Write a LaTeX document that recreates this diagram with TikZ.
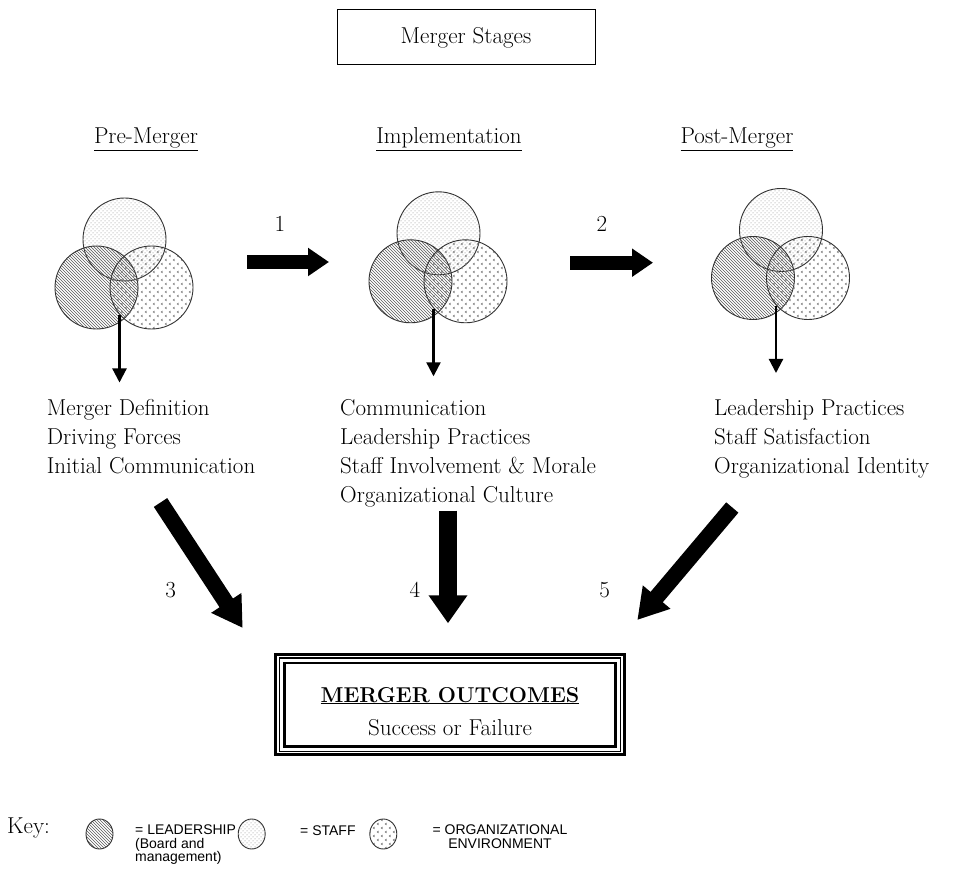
\documentclass[tikz,border=0pt]{standalone}
\usepackage{fontspec}
\newfontfamily\keyfont{Liberation Sans}
\usepackage{tikz}
\usetikzlibrary{calc}
\usetikzlibrary{arrows.meta}
\usetikzlibrary{patterns}
\usetikzlibrary{shapes.geometric}

\pgfdeclarepatternformonly{staffdots}{\pgfqpoint{-1pt}{-1pt}}{\pgfqpoint{5pt}{5pt}}{\pgfqpoint{4pt}{4pt}}{%
  \pgfpathcircle{\pgfqpoint{1pt}{1pt}}{0.5pt}%
  \pgfpathcircle{\pgfqpoint{3pt}{3pt}}{0.5pt}%
  \pgfusepath{fill}}
\pgfdeclarepatternformonly{envmarks}{\pgfqpoint{-1pt}{-1pt}}{\pgfqpoint{9pt}{9pt}}{\pgfqpoint{8pt}{8pt}}{%
  \pgfsetlinewidth{0.6pt}%
  \pgfpathmoveto{\pgfqpoint{2.6pt}{3pt}}\pgfpathlineto{\pgfqpoint{1.2pt}{2pt}}\pgfpathlineto{\pgfqpoint{2.6pt}{1pt}}%
  \pgfpathmoveto{\pgfqpoint{6.6pt}{7pt}}\pgfpathlineto{\pgfqpoint{5.2pt}{6pt}}\pgfpathlineto{\pgfqpoint{6.6pt}{5pt}}%
  \pgfusepath{stroke}}

\tikzset{
  ring/.style={circle, draw=black!80, line width=0.9pt, minimum size=83pt},
  lead/.style={ring, pattern=north west lines, pattern color=black!65},
  staff/.style={ring, pattern=staffdots, pattern color=black!50},
  env/.style={ring, pattern=envmarks, pattern color=black!55},
  keyring/.style={ellipse, minimum width=27pt, minimum height=30pt},
  keytext/.style={font=\keyfont\fontsize{14}{13.5}\selectfont},
  thinarrow/.style={line width=2.2pt, -{Triangle[width=14pt, length=14pt]}},
  sidearrow/.style={line width=14pt, -{Triangle[width=27pt, length=21pt]}},
  bigarrow/.style={line width=16pt, -{Triangle[width=34pt, length=30pt]}},
}

\begin{document}
\begin{tikzpicture}[x=1pt, y=-1pt,
  every node/.style={font=\fontsize{23}{29}\selectfont, inner sep=0pt}]
  \useasboundingbox (0,0) rectangle (954,882);

  \node[draw, line width=1pt, minimum width=258pt, minimum height=55pt] (title) at (466,37.5) {Merger Stages};

  \node[anchor=base] (pre-head) at (146,144) {\underline{Pre-Merger}};
  \node[anchor=base] (impl-head) at (449,144) {\underline{Implementation}};
  \node[anchor=base] (post-head) at (737,144) {\underline{Post-Merger}};

  % three venn groups
  \foreach \nm/\x/\y in {pre/96.5/287.5, impl/410.5/281.3, post/753/278}{
    \node[staff] (\nm-staff) at (\x+28,\y-48) {};
    \node[lead] (\nm-lead) at (\x,\y) {};
    \node[env] (\nm-env) at (\x+55,\y) {};
    \coordinate (\nm-from) at (\x+23,\y+28);
    \coordinate (\nm-to) at (\x+23,\y+95);
    \draw[thinarrow] (\nm-from) -- (\nm-to);
  }

  \node[anchor=north west, align=left] (pre-list) at (46.7,399)
    {Merger Definition\\Driving Forces\\Initial Communication};
  \node[anchor=north west, align=left] (impl-list) at (340,399)
    {Communication\\Leadership Practices\\Staff Involvement \& Morale\\Organizational Culture};
  \node[anchor=north west, align=left] (post-list) at (714,399)
    {Leadership Practices\\Staff Satisfaction\\Organizational Identity};

  % stage arrows
  \coordinate (arr1-s) at (247,262);
  \coordinate (arr1-e) at (329,262);
  \coordinate (arr2-s) at (570,262.7);
  \coordinate (arr2-e) at (653,262.7);
  \draw[sidearrow] (arr1-s) -- (arr1-e);
  \draw[sidearrow] (arr2-s) -- (arr2-e);
  \node (lab1) at (280,224) {1};
  \node (lab2) at (602,224) {2};

  % outcome
  \node[draw, line width=3pt, minimum width=348.4pt, minimum height=100.5pt] (outcome) at (450,704.7) {};
  \draw[line width=1.2pt] ($(outcome.north west)+(5,5)$) rectangle ($(outcome.south east)+(-5,-5)$);
  \draw[line width=2.5pt] ($(outcome.north west)+(10,10)$) rectangle ($(outcome.south east)+(-10,-10)$);
  \node[anchor=base, font=\fontsize{21.5}{26}\selectfont\bfseries] (outcome-head) at (450,702) {\underline{MERGER OUTCOMES}};
  \node[anchor=base] (outcome-sub) at (450,735) {Success or Failure};

  \coordinate (arr3-s) at (160.5,502.5);
  \coordinate (arr3-e) at (242.7,628);
  \coordinate (arr4-s) at (448,510.7);
  \coordinate (arr4-e) at (448,623.3);
  \coordinate (arr5-s) at (732.3,507.5);
  \coordinate (arr5-e) at (637.3,620);
  \draw[bigarrow] (arr3-s) -- (arr3-e);
  \draw[bigarrow, line width=18pt, -{Triangle[width=37pt, length=28pt]}] (arr4-s) -- (arr4-e);
  \draw[bigarrow] (arr5-s) -- (arr5-e);
  \node (lab3) at (170.7,590) {3};
  \node (lab4) at (415,590) {4};
  \node (lab5) at (604.7,590) {5};

  % key
  \node[anchor=base west] (key) at (7,833) {Key:};
  \node[lead, keyring] (key-lead) at (99.5,834) {};
  \node[staff, keyring] (key-staff) at (251.7,834) {};
  \node[env, keyring] (key-env) at (383.3,834) {};
  \node[keytext, anchor=north west, align=left] (key-lead-txt) at (135,825)
    {= LEADERSHIP\\(Board and\\management)};
  \node[keytext, anchor=base west] (key-staff-txt) at (300,835) {= STAFF};
  \node[keytext, anchor=north, align=center] (key-env-txt) at (500,825)
    {= ORGANIZATIONAL\\ENVIRONMENT};
\end{tikzpicture}
\end{document}
